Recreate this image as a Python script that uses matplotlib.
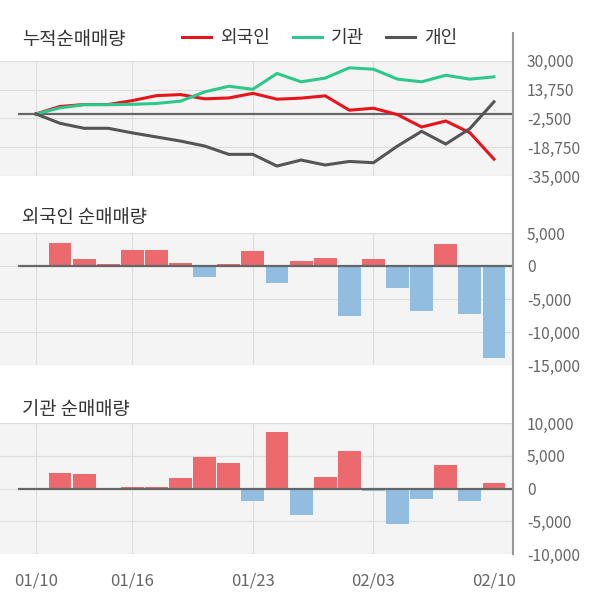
import matplotlib
import numpy as np

matplotlib.use("Agg")
import matplotlib.pyplot as plt
from matplotlib.lines import Line2D

plt.rcParams["font.family"] = ["Noto Sans CJK KR", "DejaVu Sans"]

dates = ["01/10", "01/13", "01/14", "01/15", "01/16", "01/17", "01/20", "01/21", "01/22", "01/23",
         "01/28", "01/29", "01/30", "01/31", "02/03", "02/04", "02/05", "02/06", "02/07", "02/10"]
tick_dates = ["01/10", "01/16", "01/23", "02/03", "02/10"]

foreign_cum = [0, 4200, 5300, 5300, 7500, 10300, 10900, 8500, 9000, 11600,
               8300, 8900, 10200, 2100, 3200, -400, -7400, -4000, -10600, -25500]
inst_cum = [0, 3400, 5200, 5200, 5400, 5900, 7200, 12400, 15600, 13900,
            22800, 18100, 20200, 26000, 25200, 19600, 18100, 21800, 19600, 20900]
indiv_cum = [0, -5300, -8100, -8100, -10700, -13000, -15300, -18100, -22800, -22800,
             -29400, -26000, -28800, -26800, -27500, -18100, -9800, -17000, -8300, 6800]

foreign_daily = [0, 3500, 1000, 250, 2350, 2500, 400, -1650, 250, 2200,
                 -2600, 700, 1150, -7650, 1000, -3300, -6750, 3400, -7200, -13950]
inst_daily = [0, 2300, 2150, 0, 200, 200, 1550, 4750, 3850, -1900,
              8700, -4050, 1700, 5650, -350, -5400, -1550, 3550, -1900, 800]

cum_ticks = [30000, 13750, -2500, -18750, -35000]
foreign_ticks = [5000, 0, -5000, -10000, -15000]
inst_ticks = [10000, 5000, 0, -5000, -10000]

W, H = 600, 604
BG = "#f4f4f4"
GRID = "#dedede"
TEXT = "#333333"
TICK = "#666666"
RED_BAR = "#ec6a6d"
BLUE_BAR = "#90bde0"
XMIN, XMAX = -1.49, 19.79


def _add_panel(fig, top_px, bottom_px):
    ax = fig.add_axes([0, 1 - bottom_px / H, 513 / W, (bottom_px - top_px) / H])
    ax.set_facecolor(BG)
    for spine in ax.spines.values():
        spine.set_visible(False)
    ax.set_xlim(XMIN, XMAX)
    ax.yaxis.tick_right()
    ax.tick_params(axis="y", length=0, pad=10, labelsize=11.2, labelcolor=TICK)
    ax.tick_params(axis="x", length=0)
    ax.set_xticks([])
    for x in [0, 4, 9, 14]:
        ax.axvline(x, color=GRID, lw=0.9, zorder=0)
    return ax


def _set_yticks(ax, ticks):
    ax.set_ylim(min(ticks), max(ticks))
    ax.set_yticks(ticks)
    ax.set_yticklabels([f"{t:,}" for t in ticks])
    for t in ticks:
        ax.axhline(t, color=GRID, lw=0.9, zorder=0)
    ax.hlines(0, -0.75, XMAX, color="#666666", lw=1.6, zorder=4)


def _bars(ax, values):
    x = np.arange(len(values))
    colors = [RED_BAR if v >= 0 else BLUE_BAR for v in values]
    ax.bar(x, values, width=0.95, color=colors, zorder=2)


fig = plt.figure(figsize=(W / 100, H / 100), dpi=100)

x = np.arange(len(dates))
ax1 = _add_panel(fig, 60.7, 176)
_set_yticks(ax1, cum_ticks)
ax1.plot(x, foreign_cum, color="#e8141c", lw=2.2, zorder=5, label="외국인")
ax1.plot(x, inst_cum, color="#2ec88c", lw=2.2, zorder=5, label="기관")
ax1.plot(x, indiv_cum, color="#555555", lw=2.2, zorder=5, label="개인")
fig.legend(loc="center", bbox_to_anchor=(320 / W, 1 - 38 / H), ncol=3, frameon=False,
           fontsize=13, labelcolor=TEXT, handlelength=1.6, handletextpad=0.5,
           columnspacing=1.25, borderaxespad=0, borderpad=0)

ax2 = _add_panel(fig, 233, 365)
_set_yticks(ax2, foreign_ticks)
_bars(ax2, foreign_daily)

ax3 = _add_panel(fig, 423, 554)
_set_yticks(ax3, inst_ticks)
_bars(ax3, inst_daily)
ax3.set_xticks([dates.index(d) for d in tick_dates])
ax3.set_xticklabels(tick_dates)
ax3.tick_params(axis="x", length=0, pad=13, labelsize=12, labelcolor=TICK)

for title, y in [("누적순매매량", 40), ("외국인 순매매량", 217), ("기관 순매매량", 409)]:
    fig.text(22 / W, 1 - y / H, title, fontsize=13.5, color=TEXT, va="center", ha="left")

fig.add_artist(Line2D([513 / W, 513 / W], [1 - 33 / H, 1 - 554 / H], color="#999999", lw=1.5))

fig.savefig("out.png", dpi=100)
